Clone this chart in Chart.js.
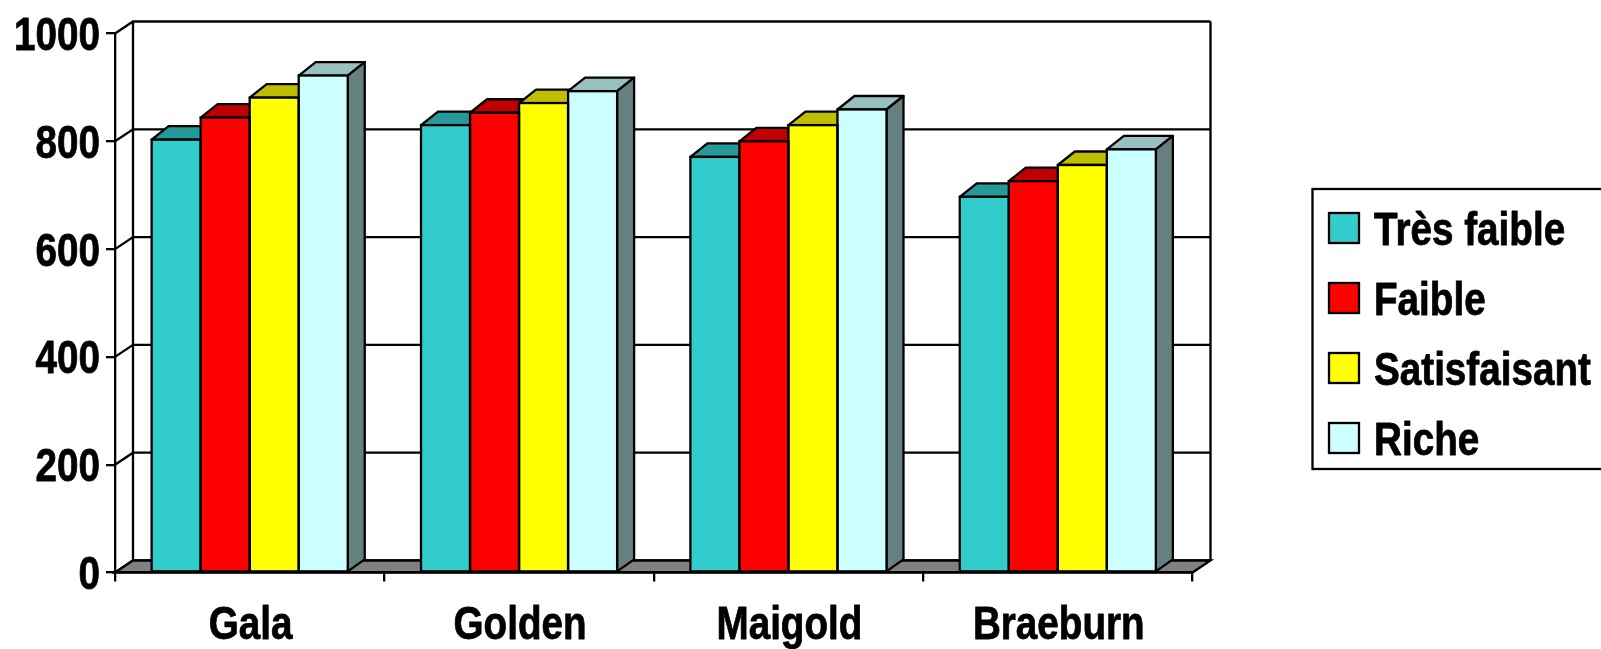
<!DOCTYPE html>
<html lang="fr">
<head>
<meta charset="utf-8">
<title>Gala, Golden, Maigold, Braeburn</title>
<script src="https://cdn.jsdelivr.net/npm/chart.js@4"></script>
<style>
  html, body { margin: 0; padding: 0; background: #fff; overflow: hidden; }
  canvas { display: block; }
</style>
</head>
<body>
<canvas id="chart" width="1601" height="649"></canvas>
<script>
const categories = ["Gala", "Golden", "Maigold", "Braeburn"];
const seriesNames = ["Très faible", "Faible", "Satisfaisant", "Riche"];
const tresFaible = [803, 830, 771, 697];
const faible = [844, 853, 800, 726];
const satisfaisant = [881, 871, 830, 756];
const riche = [922, 893, 859, 785];

const frontColors = ["#33cccc", "#ff0000", "#ffff00", "#ccffff"];
const topColors = ["#269999", "#bf0000", "#bfbf00", "#99c0c0"];
const sideColors = ["#1a6666", "#800000", "#808000", "#668080"];

const FONT = 'bold 46px "Liberation Sans", sans-serif';
const NARROW = 0.84; // no narrow bold face installed, so squeeze the regular bold
const LINE = 2.3;
const wallDepth = { x: 18, y: 12 };
const barDepth = { x: 17, y: 13.5 };

function poly(ctx, pts, fill) {
  ctx.beginPath();
  pts.forEach((p, i) => i ? ctx.lineTo(p[0], p[1]) : ctx.moveTo(p[0], p[1]));
  ctx.closePath();
  if (fill) {
    ctx.fillStyle = fill;
    ctx.fill();
  }
  ctx.stroke();
}

function narrowText(ctx, text, x, y, align) {
  ctx.save();
  ctx.translate(x, y);
  ctx.scale(NARROW, 1);
  ctx.font = FONT;
  ctx.fillStyle = "#000";
  ctx.strokeStyle = "#000";
  ctx.lineWidth = 0.8; // heavier strokes than the plain bold
  ctx.lineJoin = "round";
  ctx.textAlign = align;
  ctx.textBaseline = "alphabetic";
  ctx.fillText(text, 0, 0);
  ctx.strokeText(text, 0, 0);
  ctx.restore();
}

// back wall, left wall gridlines and the grey floor
const room = {
  id: "room",
  beforeDraw(chart) {
    const { ctx, chartArea: a, scales: { y } } = chart;
    const dx = wallDepth.x, dy = wallDepth.y;
    ctx.save();
    ctx.strokeStyle = "#000";
    ctx.lineWidth = LINE;
    y.ticks.forEach((_, i) => {
      const py = y.getPixelForTick(i);
      ctx.beginPath();
      ctx.moveTo(a.left, py);
      ctx.lineTo(a.left + dx, py - dy);
      ctx.lineTo(a.right + dx, py - dy);
      ctx.stroke();
    });
    ctx.beginPath();
    ctx.moveTo(a.left + dx, a.top - dy);
    ctx.lineTo(a.left + dx, a.bottom - dy);
    ctx.moveTo(a.right + dx, a.top - dy);
    ctx.lineTo(a.right + dx, a.bottom - dy);
    ctx.stroke();
    poly(ctx, [
      [a.left, a.bottom],
      [a.right, a.bottom],
      [a.right + dx, a.bottom - dy],
      [a.left + dx, a.bottom - dy]
    ], "#808080");
    ctx.restore();
  }
};

// top and side faces go under the library's front faces, outlines go over them
const bars3d = {
  id: "bars3d",
  beforeDatasetsDraw(chart) {
    const { ctx } = chart;
    const dx = barDepth.x, dy = barDepth.y;
    ctx.save();
    ctx.strokeStyle = "#000";
    ctx.lineWidth = LINE;
    ctx.lineJoin = "round";
    categories.forEach((_, c) => {
      seriesNames.forEach((_, s) => {
        const bar = chart.getDatasetMeta(s).data[c];
        const l = bar.x - bar.width / 2, r = bar.x + bar.width / 2;
        poly(ctx, [[l, bar.y], [l + dx, bar.y - dy], [r + dx, bar.y - dy], [r, bar.y]], topColors[s]);
        poly(ctx, [[r, bar.y], [r + dx, bar.y - dy], [r + dx, bar.base - wallDepth.y], [r, bar.base]], sideColors[s]);
      });
    });
    ctx.restore();
  },
  afterDatasetsDraw(chart) {
    const { ctx } = chart;
    ctx.save();
    ctx.strokeStyle = "#000";
    ctx.lineWidth = LINE;
    seriesNames.forEach((_, s) => {
      chart.getDatasetMeta(s).data.forEach(bar => {
        ctx.strokeRect(bar.x - bar.width / 2, bar.y, bar.width, bar.base - bar.y);
      });
    });
    ctx.restore();
  }
};

// tick labels take their text and position from the scales
const axisLabels = {
  id: "axisLabels",
  afterDraw(chart) {
    const { ctx, scales: { x, y } } = chart;
    y.ticks.forEach((t, i) => narrowText(ctx, t.label, 100, y.getPixelForTick(i) + 16.5, "right"));
    x.ticks.forEach((t, i) => narrowText(ctx, t.label, x.getPixelForTick(i) + 1, 639, "center"));
  }
};

// boxed legend on the right, runs off the edge of the canvas
const sideLegend = {
  id: "sideLegend",
  afterDraw(chart) {
    const { ctx } = chart;
    ctx.save();
    ctx.strokeStyle = "#000";
    ctx.lineWidth = LINE;
    ctx.strokeRect(1312.5, 189, 320, 280);
    chart.data.datasets.forEach((ds, i) => {
      const top = 213 + i * 70;
      ctx.fillStyle = ds.backgroundColor;
      ctx.fillRect(1329, top, 30, 30);
      ctx.strokeRect(1329, top, 30, 30);
      narrowText(ctx, ds.label, 1374, top + 31.5, "left");
    });
    ctx.restore();
  }
};

const seriesValues = [tresFaible, faible, satisfaisant, riche];

new Chart(document.getElementById("chart"), {
  type: "bar",
  plugins: [room, bars3d, axisLabels, sideLegend],
  data: {
    labels: categories,
    datasets: seriesNames.map((name, i) => ({
      label: name,
      data: seriesValues[i],
      backgroundColor: frontColors[i],
      borderWidth: 0,
      categoryPercentage: 0.728,
      barPercentage: 1
    }))
  },
  options: {
    responsive: false,
    animation: false,
    layout: { padding: { left: 0, top: 33.5, right: 408.5, bottom: 0 } },
    plugins: {
      legend: { display: false },
      tooltip: { enabled: false }
    },
    scales: {
      x: {
        afterFit: s => { s.height = 76.5; },
        grid: { drawOnChartArea: false, color: "#000", lineWidth: LINE, tickLength: 9 },
        border: { color: "#000", width: LINE },
        ticks: { display: false, maxRotation: 0 }
      },
      y: {
        min: 0,
        max: 1000,
        afterFit: s => { s.width = 115; },
        grid: { drawOnChartArea: false, color: "#000", lineWidth: LINE, tickLength: 9 },
        border: { color: "#000", width: LINE },
        ticks: { display: false, stepSize: 200, callback: v => String(v) }
      }
    }
  }
});
</script>
</body>
</html>
